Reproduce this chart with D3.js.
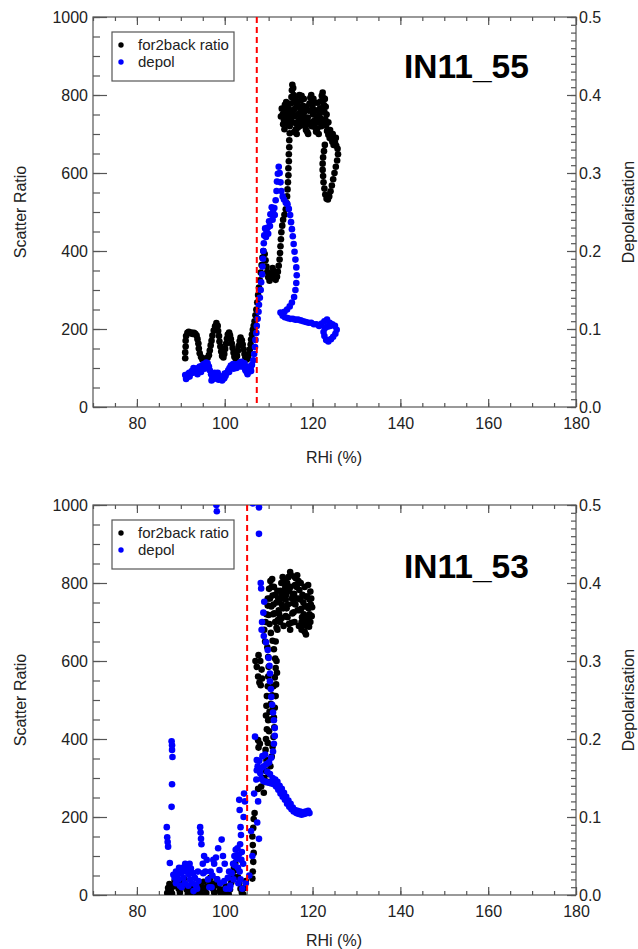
<!DOCTYPE html>
<html><head><meta charset="utf-8">
<script src="https://cdn.jsdelivr.net/npm/d3@7"></script>
<style>
html,body{margin:0;padding:0;background:#fff;}
svg{display:block;font-family:"Liberation Sans",Arial,Helvetica,sans-serif;}
</style></head>
<body>
<svg id="chart" width="638" height="949"></svg>
<script>
// ---------------- DATA ----------------
const xMajorTicks = [80, 100, 120, 140, 160, 180];
const yLeftTicks = [0, 200, 400, 600, 800, 1000];
const yRightTicks = [0.0, 0.1, 0.2, 0.3, 0.4, 0.5];
const seriesNames = ["for2back ratio", "depol"];
const panelTitles = ["IN11_55", "IN11_53"];
const thresholds = [107.3, 105.1];

// IN11_55 : [RHi, scatter ratio]
const in55_for2back = [
[91.0,125],[91.0,140],[91.1,155],[91.1,170],[91.2,182],[91.5,190],[91.8,193],[92.1,189],[92.4,191],[92.7,187],[93.0,190],[93.3,188],[93.6,183],[93.8,174],[94.0,163],[94.1,150],[94.3,138],[94.6,128],[94.9,122],[95.3,124],[95.7,121],[96.1,126],[96.4,133],[96.6,145],[96.8,158],[97.0,170],[97.2,183],[97.5,196],[97.8,207],[98.1,215],[98.4,208],[98.5,195],[98.7,182],[98.8,168],[99.0,155],[99.2,142],[99.4,131],[99.7,127],[99.9,136],[100.1,149],[100.3,162],[100.5,175],[100.7,186],[101.0,191],[101.2,184],[101.4,174],[101.6,163],[101.8,151],[102.0,139],[102.2,129],[102.5,124],[102.8,131],[103.0,144],[103.2,157],[103.4,169],[103.6,178],[103.9,171],[104.1,160],[104.3,148],[104.5,136],[104.7,127],[105.0,122],[105.3,125],[105.5,135],[105.7,147],[105.9,160],[106.0,173],[106.2,186],[106.4,198],[106.6,208],
[106.8,220],[107.0,235],[107.2,250],[107.4,268],[107.6,287],[107.8,306],[108.0,325],[108.2,345],[108.4,364],[108.6,383],[108.8,400],[109.1,392],[109.3,376],[109.5,360],[109.7,346],[109.9,333],[110.2,324],[110.5,330],[110.7,342],[110.9,356],[111.1,348],[111.3,335],[111.6,326],[111.9,334],[112.1,347],[112.3,362],[112.5,378],[112.6,395],[112.7,412],[112.8,430],[112.9,448],[113.1,465],[113.3,480],[113.6,493],[113.9,507],[114.1,523],[114.2,540],[114.3,558],[114.4,576],[114.5,594],[114.5,612],[114.6,630],[114.6,648],[114.7,666],[114.7,684],[114.8,702],[114.8,720],[114.9,738],
[114.5,750],[114.2,740],[113.9,748],[113.6,760],[113.7,775],[114.0,782],[114.3,770],[114.7,762],[115.0,778],[115.2,795],[115.3,812],[115.4,826],[115.6,818],[115.7,800],[115.8,782],[115.9,764],[116.0,746],[116.1,728],[116.2,712],[116.4,700],[116.6,716],[116.8,734],[116.9,752],[117.1,770],[117.3,786],[117.5,798],[117.7,790],[117.8,772],[118.0,754],[118.1,736],[118.3,720],[118.5,710],[118.7,724],[118.9,742],[119.1,760],[119.3,778],[119.5,793],[119.7,800],[119.9,786],[120.0,768],[120.1,750],[120.3,733],[120.5,718],[120.8,706],[121.1,714],[121.3,730],[121.5,748],[121.7,766],[121.9,784],[122.1,798],[122.3,806],[122.5,792],[122.6,774],[122.7,756],[122.9,738],[123.1,722],[123.3,708],[123.6,698],[123.9,690],[124.2,688],[124.5,680],[124.8,672],[125.1,678],[125.4,670],[125.7,662],
[112.8,745],[113.0,765],[113.3,725],[113.6,712],[113.9,730],[115.0,740],[115.5,730],[116.5,780],[117.0,800],[118.5,770],[119.0,700],[120.5,780],[121.0,760],[122.0,720],[123.0,770],[117.4,745],[115.8,705],
[113.2,750],[113.5,735],[114.0,760],[114.4,725],[114.9,755],[115.2,745],[115.6,760],[116.0,790],[116.3,770],[116.7,750],[117.0,720],[117.3,760],[117.6,730],[118.0,790],[118.3,760],[118.6,740],[118.8,705],[119.2,730],[119.5,760],[119.8,720],[120.2,790],[120.6,760],[120.9,740],[121.2,780],[121.4,700],[121.8,740],[122.2,760],[122.5,730],[122.8,790],[123.2,750],[123.6,730],[124.0,710],[124.6,700],[125.3,690],
[125.8,648],[125.6,632],[125.3,616],[125.0,600],[124.7,584],[124.4,568],[124.1,553],[123.8,540],[123.5,532],[123.2,534],[122.9,545],[122.7,560],[122.5,576],[122.4,592],[122.3,608],[122.3,624],[122.4,640],[122.6,656],[122.8,672]
];

// IN11_55 : [RHi, depolarisation]
const in55_depol = [
[91.0,0.041],[91.3,0.038],[91.6,0.042],[91.9,0.044],[92.2,0.043],[92.5,0.046],[92.8,0.044],[93.1,0.047],[93.4,0.049],[93.7,0.046],[94.0,0.050],[94.3,0.052],[94.6,0.050],[94.9,0.053],[95.2,0.055],[95.5,0.054],[95.8,0.057],[96.1,0.056],[96.4,0.052],[96.6,0.047],[96.9,0.042],[97.2,0.038],[97.5,0.036],[97.8,0.039],[98.1,0.043],[98.4,0.044],[98.7,0.040],[99.0,0.037],[99.3,0.039],[99.6,0.036],[99.9,0.037],[100.2,0.040],[100.5,0.044],[100.8,0.047],[101.1,0.050],[101.4,0.053],[101.7,0.051],[102.0,0.049],[102.3,0.051],[102.6,0.054],[102.9,0.055],[103.2,0.053],[103.5,0.057],[103.8,0.058],[104.1,0.055],[104.4,0.051],[104.7,0.047],[105.0,0.045],[105.3,0.048],[105.6,0.052],[105.9,0.050],[106.2,0.054],[106.5,0.060],[106.7,0.068],[106.9,0.077],[107.0,0.086],[107.2,0.095],[107.3,0.104],[107.5,0.113],[107.7,0.122],[107.8,0.131],[108.0,0.140],[108.2,0.150],[108.3,0.160],[108.5,0.170],[108.6,0.180],[108.7,0.190],[108.8,0.200],[108.9,0.210],[109.0,0.220],[109.2,0.229],[109.5,0.226],[109.8,0.230],[110.1,0.238],[110.4,0.247],[110.7,0.256],[111.0,0.250],[111.3,0.255],[111.6,0.265],[111.8,0.277],[111.9,0.289],[112.1,0.299],[112.3,0.308],[112.5,0.300],[112.7,0.288],[112.9,0.277],[113.2,0.270],[113.5,0.266],[113.9,0.262],[114.3,0.260],[114.6,0.254],[114.9,0.246],[115.1,0.237],[115.3,0.228],[115.5,0.219],[115.7,0.209],[115.9,0.199],[116.1,0.189],[116.3,0.179],[116.4,0.169],[116.3,0.159],[116.1,0.150],[115.8,0.141],[115.3,0.134],[114.8,0.129],[114.2,0.125],[113.6,0.122],[113.0,0.120],[112.7,0.121],[113.2,0.117],[113.7,0.115],[114.3,0.114],[114.9,0.113],[115.5,0.113],[116.1,0.112],[116.7,0.112],[117.3,0.111],[117.9,0.110],[118.5,0.109],[119.1,0.108],[119.7,0.108],[120.3,0.106],[120.9,0.106],[121.5,0.104],[122.1,0.107],[122.7,0.110],[123.3,0.112],[123.9,0.108],[124.5,0.106],[125.1,0.104],[125.5,0.099],[125.2,0.094],[124.7,0.090],[124.2,0.087],[123.6,0.084],[123.1,0.086],[122.7,0.091],[122.5,0.096],[122.8,0.101],[123.4,0.103],[124.0,0.104],
[91.2,0.036],[92.0,0.039],[92.9,0.050],[93.8,0.042],[94.6,0.045],[95.4,0.049],[96.0,0.051],[97.0,0.034],[97.7,0.044],[98.6,0.035],[99.4,0.034],[100.0,0.043],[101.0,0.045],[101.9,0.055],[102.7,0.050],[103.6,0.052],[104.5,0.056],[105.2,0.042],[106.0,0.046],[109.4,0.218],[109.9,0.222],[110.3,0.232],[110.9,0.240],[111.4,0.246]
];

// IN11_53 : [RHi, scatter ratio]
const in53_for2back = [
[86.9,5],[87.1,18],[87.4,28],[87.7,12],[88.0,4],[88.3,22],[88.6,38],[88.9,44],[89.2,30],[89.5,16],[89.8,6],[90.1,20],[90.4,34],[90.7,42],[91.0,28],[91.3,14],[91.6,4],[91.9,12],[92.2,24],[92.5,8],[92.8,2],[93.1,15],[93.4,6],[93.7,18],[94.0,28],[94.3,12],[94.6,3],[94.9,20],[95.2,34],[95.5,16],[95.8,5],[96.1,22],[96.4,38],[96.7,44],[97.0,30],[97.3,16],[97.6,6],[97.9,26],[98.2,40],[98.5,24],[98.8,10],[99.1,2],[99.4,14],[99.7,4],[100.0,10],[100.3,22],[100.6,8],[100.9,2],[101.2,14],[101.5,32],[101.8,52],[102.1,70],[102.4,82],[102.7,64],[103.0,46],[103.3,30],[103.6,16],[103.9,6],[104.2,2],[104.5,18],[104.8,36],
[106.3,42],[106.4,60],[106.5,85],[106.6,108],[106.4,128],[106.3,150],[106.5,172],[106.6,195],[106.8,210],
[107.6,272],[108.3,278],[107.6,397],[107.7,378],[108.0,388],
[107.0,600],[107.3,585],[107.6,560],[107.9,545],[108.2,538],[108.5,555],[108.4,578],[108.1,600],[107.7,615],
[108.9,262],[109.2,290],[109.4,318],[109.5,346],[109.3,372],[109.4,400],[109.6,425],[109.9,448],[110.2,470],[110.5,490],[110.8,512],[111.1,535],[111.4,558],[111.6,582],[111.5,606],[111.2,630],[110.9,652],[110.5,672],[110.2,695],[110.0,718],[109.8,742],
[109.4,460],[109.5,485],[109.6,510],[109.8,535],[109.9,560],[110.0,585],[109.9,610],[109.7,635],[111.0,480],[111.2,455],[111.3,430],[111.1,405],[110.9,380],[110.7,355],[110.4,330],[110.0,310],[109.7,290],
[109.0,300],[109.8,390],[110.1,420],[110.4,450],[110.6,470],[111.4,480],[111.6,510],[111.7,540],[111.9,570],[111.8,600],[111.6,650],[109.2,650],[109.0,680],[109.3,700],[109.5,720],
[109.8,760],[110.1,785],[110.4,805],[110.7,790],[110.9,768],[111.1,745],[111.3,722],[111.5,700],[111.8,685],[112.1,705],[112.3,730],[112.5,755],[112.7,780],[112.9,800],[113.2,815],[113.5,805],[113.7,782],[113.9,758],[114.1,735],[114.3,712],[114.6,695],[114.9,680],[115.2,698],[115.4,722],[115.6,748],[115.8,772],[116.0,795],[116.2,812],[116.5,820],[116.8,805],[117.0,782],[117.2,758],[117.4,734],[117.6,712],[117.9,692],[118.2,675],[118.5,668],[118.7,690],[118.9,712],[119.1,735],[119.3,758],[119.5,778],[119.7,760],[119.9,738],[119.8,715],[119.5,700],[119.2,688],
[114.9,828],[114.5,815],[113.8,790],[112.0,780],[111.0,720],[112.6,700],[113.4,690],[114.0,770],[115.0,790],[115.5,770],[116.3,760],[116.6,730],[117.3,800],[117.7,770],[118.3,740],[118.8,765],[118.0,720],[115.9,700],[114.4,745],[113.0,745],[116.9,690],[117.5,680],[118.6,710],[119.0,795],[110.6,740],[111.5,770],
[110.3,760],[110.8,810],[111.2,790],[111.8,750],[112.2,760],[112.4,720],[112.9,770],[113.3,735],[113.6,760],[113.9,715],[114.2,800],[114.7,780],[115.3,760],[115.7,725],[116.1,745],[116.4,790],[116.8,760],[117.1,730],[117.5,700],[117.9,750],[118.2,790],[118.5,765],[118.9,740],[119.3,720],[119.6,745],[115.1,820],[113.0,710],[112.0,680],[116.0,815],[118.3,700]
];

// IN11_53 : [RHi, depolarisation]
const in53_depol = [
[86.8,0.087],[86.9,0.074],[87.0,0.068],[87.1,0.062],[87.5,0.041],[87.9,0.113],[88.0,0.142],[87.9,0.197],[88.0,0.192],[88.0,0.186],[88.1,0.177],[88.3,0.026],[88.6,0.022],[88.9,0.015],[89.2,0.025],[89.5,0.020],[89.8,0.012],[90.1,0.028],[90.4,0.035],[90.6,0.022],[90.9,0.015],[91.2,0.030],[91.5,0.036],[91.8,0.027],[92.1,0.020],[92.3,0.034],[92.6,0.015],[92.9,0.005],[93.2,0.022],[93.5,0.012],[93.7,0.008],[94.0,0.018],[94.4,0.087],[94.5,0.080],[94.6,0.072],[94.7,0.065],[95.0,0.040],[95.3,0.050],[95.6,0.030],[95.9,0.045],[96.2,0.020],[96.5,0.010],[96.8,0.030],[97.2,0.025],[97.6,0.040],[98.0,0.048],[98.5,0.060],[98.8,0.032],[99.3,0.071],[99.6,0.050],[99.9,0.018],[100.3,0.008],[100.7,0.022],[101.0,0.030],[101.3,0.012],[101.6,0.028],[101.9,0.040],[102.2,0.050],[102.5,0.058],[102.7,0.046],[103.0,0.035],[103.2,0.052],[103.4,0.030],[103.6,0.020],[103.8,0.045],[103.3,0.122],[103.4,0.109],[103.6,0.087],[103.7,0.077],[104.0,0.008],[104.3,0.100],[104.4,0.130],[104.6,0.120],[106.3,0.050],[106.7,0.130],[106.9,0.203],[107.4,0.093],[107.6,0.120],[107.8,0.072],[106.0,0.082],[105.6,0.025],
[88.9,0.030],[89.6,0.035],[90.2,0.010],[91.0,0.040],[91.7,0.012],[92.0,0.040],[92.8,0.028],[93.9,0.030],[95.1,0.028],[97.0,0.010],[97.4,0.045],[98.3,0.020],[99.0,0.015],[100.0,0.040],[101.1,0.008],[102.0,0.020],[102.3,0.038],[102.9,0.060],[103.1,0.015],[103.5,0.065],[103.9,0.055],[104.2,0.040],[104.8,0.015],
[98.1,0.500],[98.2,0.492],[107.8,0.497],[107.8,0.463],[106.4,0.502],[108.2,0.400],[108.3,0.393],
[109.0,0.376],[108.8,0.362],[108.5,0.350],[108.4,0.340],[108.9,0.332],[109.4,0.324],[109.8,0.314],[110.0,0.304],[110.2,0.294],[110.3,0.284],[110.3,0.274],[110.5,0.264],[110.6,0.254],[110.8,0.244],[111.0,0.234],[111.2,0.224],[111.4,0.214],[111.4,0.204],[111.2,0.194],[111.0,0.184],[110.6,0.176],[110.1,0.170],[109.5,0.168],[108.9,0.165],[108.4,0.163],[108.1,0.156],[108.3,0.149],[108.8,0.146],[109.4,0.145],[110.0,0.144],[110.6,0.143],[111.2,0.142],[111.7,0.139],[112.2,0.135],[112.7,0.130],[113.2,0.126],[113.7,0.122],[114.2,0.117],[114.7,0.113],[115.2,0.110],[115.7,0.107],[116.3,0.105],[116.9,0.104],[117.5,0.103],[118.1,0.104],[118.7,0.105],[119.3,0.105],
[107.3,0.173],[107.3,0.160],[107.2,0.148],[107.5,0.165],[107.9,0.172],[108.6,0.178],[109.2,0.180],[109.7,0.158],[110.3,0.155],[110.9,0.150],[111.5,0.148],[112.0,0.145],[112.5,0.140],[113.0,0.136],[113.5,0.131],[114.0,0.126],[114.5,0.121],[115.0,0.117],[115.5,0.112],[116.0,0.109],[116.6,0.108],[117.2,0.107],[117.8,0.106],[118.4,0.107],[119.0,0.108]
];

// ---------------- DRAWING ----------------
const svg = d3.select("#chart");
const plotLeft = 93, plotRight = 576;
const panels = [
  {top: 17, bottom: 407, title: panelTitles[0], titleDy: 61, xTitleDy: 56, f2b: in55_for2back, dep: in55_depol, thr: thresholds[0]},
  {top: 505, bottom: 895, title: panelTitles[1], titleDy: 73, xTitleDy: 51, f2b: in53_for2back, dep: in53_depol, thr: thresholds[1]}
];
const axisColor = "#555";
const textColor = "#222";
const fontSize = 16;
const dotR = 3.3;

panels.forEach((p, i) => {
  const x = d3.scaleLinear().domain([70, 180]).range([plotLeft, plotRight]);
  const yL = d3.scaleLinear().domain([0, 1000]).range([p.bottom, p.top]);
  const yR = d3.scaleLinear().domain([0, 0.5]).range([p.bottom, p.top]);
  const g = svg.append("g");

  const clipId = "clip" + i;
  svg.append("clipPath").attr("id", clipId).append("rect")
    .attr("x", plotLeft).attr("y", p.top).attr("width", plotRight - plotLeft).attr("height", p.bottom - p.top);

  g.append("rect").attr("x", plotLeft).attr("y", p.top)
    .attr("width", plotRight - plotLeft).attr("height", p.bottom - p.top)
    .attr("fill", "none").attr("stroke", axisColor).attr("stroke-width", 1.2);

  const styleAxis = sel => {
    sel.select(".domain").remove();
    sel.selectAll(".tick line").attr("stroke", axisColor).attr("stroke-width", 1.2);
    sel.selectAll(".tick text").attr("fill", textColor).attr("font-size", fontSize)
      .attr("font-family", '"Liberation Sans",Arial,sans-serif');
  };

  g.append("g").attr("transform", `translate(0,${p.bottom})`)
    .call(d3.axisBottom(x).tickValues(d3.range(70, 181, 5)).tickSize(-4).tickFormat(""))
    .call(styleAxis);
  g.append("g").attr("transform", `translate(0,${p.bottom})`)
    .call(d3.axisBottom(x).tickValues(xMajorTicks).tickSize(-8).tickPadding(7).tickFormat(d3.format("d")))
    .call(styleAxis)
    .selectAll(".tick text").attr("dy", "0.95em");
  g.append("g").attr("transform", `translate(0,${p.top})`)
    .call(d3.axisTop(x).tickValues(d3.range(70, 181, 5)).tickSize(-4).tickFormat(""))
    .call(styleAxis);
  g.append("g").attr("transform", `translate(0,${p.top})`)
    .call(d3.axisTop(x).tickValues(xMajorTicks).tickSize(-8).tickFormat(""))
    .call(styleAxis);
  g.append("g").attr("transform", `translate(${plotLeft},0)`)
    .call(d3.axisLeft(yL).tickValues(d3.range(0, 1001, 50)).tickSize(-7).tickFormat(""))
    .call(styleAxis);
  g.append("g").attr("transform", `translate(${plotLeft},0)`)
    .call(d3.axisLeft(yL).tickValues(yLeftTicks).tickSize(-14).tickPadding(5).tickFormat(d3.format("d")))
    .call(styleAxis);
  g.append("g").attr("transform", `translate(${plotRight},0)`)
    .call(d3.axisRight(yR).tickValues(d3.range(0, 50.5, 1).map(v => v / 100)).tickSize(-5).tickFormat(""))
    .call(styleAxis);
  g.append("g").attr("transform", `translate(${plotRight},0)`)
    .call(d3.axisRight(yR).tickValues(yRightTicks).tickSize(-9).tickPadding(3).tickFormat(d3.format(".1f")))
    .call(styleAxis);

  g.append("text").attr("x", (plotLeft + plotRight) / 2 - 0.5).attr("y", p.bottom + p.xTitleDy)
    .attr("text-anchor", "middle").attr("font-size", 16).attr("fill", textColor).text("RHi (%)");
  g.append("text").attr("transform", `translate(26,${(p.top + p.bottom) / 2}) rotate(-90)`)
    .attr("text-anchor", "middle").attr("font-size", 16).attr("fill", textColor).text("Scatter Ratio");
  g.append("text").attr("transform", `translate(634,${(p.top + p.bottom) / 2}) rotate(-90)`)
    .attr("text-anchor", "middle").attr("font-size", 16).attr("fill", textColor).text("Depolarisation");

  const pts = g.append("g").attr("clip-path", `url(#${clipId})`);
  pts.selectAll("circle.f2b").data(p.f2b).join("circle").attr("class", "f2b")
    .attr("cx", d => x(d[0])).attr("cy", d => yL(d[1])).attr("r", dotR).attr("fill", "#000");
  pts.selectAll("circle.dep").data(p.dep).join("circle").attr("class", "dep")
    .attr("cx", d => x(d[0])).attr("cy", d => yR(d[1])).attr("r", dotR).attr("fill", "#0000ff");

  g.append("line").attr("x1", x(p.thr)).attr("x2", x(p.thr))
    .attr("y1", p.top).attr("y2", p.bottom)
    .attr("stroke", "#f00").attr("stroke-width", 2).attr("stroke-dasharray", "6,4");

  g.append("text").attr("x", 404).attr("y", p.top + p.titleDy)
    .attr("font-size", 33.5).attr("font-weight", "bold").attr("fill", "#000").text(p.title);

  const lg = g.append("g").attr("transform", `translate(112,${p.top + 15})`);
  lg.append("rect").attr("width", 122).attr("height", 49)
    .attr("fill", "#fff").attr("stroke", axisColor).attr("stroke-width", 1.2);
  const colors = ["#000", "#0000ff"];
  seriesNames.forEach((nm, k) => {
    lg.append("circle").attr("cx", 9).attr("cy", 13 + k * 17).attr("r", 2.7).attr("fill", colors[k]);
    lg.append("text").attr("x", 26).attr("y", 18 + k * 17).attr("font-size", 15).attr("fill", textColor).text(nm);
  });
});
</script>
</body></html>
